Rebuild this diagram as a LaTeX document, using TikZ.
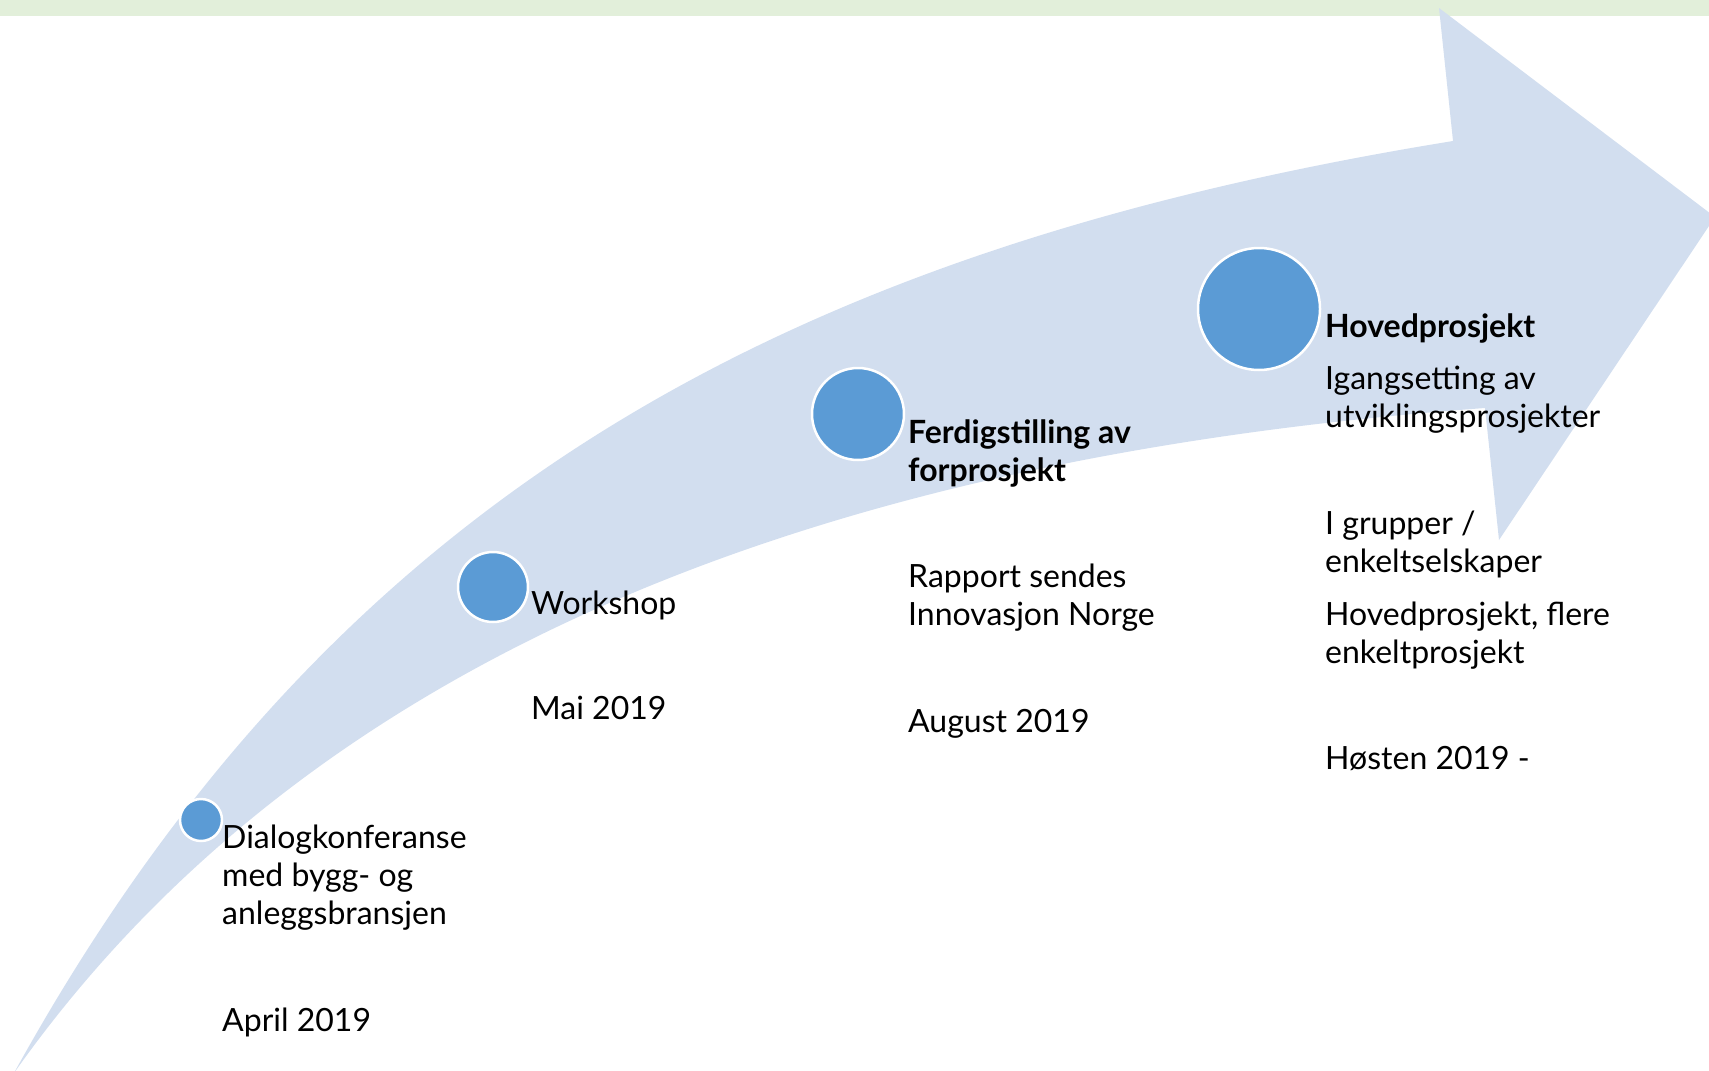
\documentclass[tikz,border=0pt]{standalone}
\usepackage{fontspec}
\setmainfont{Lato}
\definecolor{arrowfill}{HTML}{D2DEEF}
\definecolor{dotfill}{HTML}{5B9BD5}
\definecolor{topband}{HTML}{E2EFDA}

\begin{document}
\begin{tikzpicture}[x=1pt,y=1pt,yscale=-1,
	dot/.style={circle,fill=dotfill,draw=white,line width=2.5pt,inner sep=0pt},
	txt/.style={anchor=base west,inner sep=0pt,align=left,font=\fontsize{32}{38}\selectfont},
	bold/.style={txt,font=\fontsize{32}{38}\selectfont\bfseries}]
	\useasboundingbox (0,0) rectangle (1709,1071);
	\clip (0,0) rectangle (1709,1071);
	% band at the top and the curved arrow
	\fill [topband] (0,0) rectangle (1709,16);
	\fill [arrowfill] (14,1073) .. controls (330,500) and (780,250) .. (1453,141) -- (1439,8) -- (1715,217) -- (1499,540) -- (1485,408) .. controls (850,455) and (320,640) .. (14,1073) -- cycle;
	% milestones
	\node [dot,minimum size=42] (dialog) at (201,820) {};
	\node [dot,minimum size=70] (workshop) at (493,587) {};
	\node [dot,minimum size=92] (forprosjekt) at (858,414) {};
	\node [dot,minimum size=122] (hoved) at (1259,309) {};
	% texts (base = baseline of the last line)
	\node [txt] (dialogtxt) at (222,924) {Dialogkonferanse\\med bygg- og\\anleggsbransjen};
	\node [txt] (dialogdate) at (222,1031) {April 2019};
	\node [txt] (workshoptxt) at (531,614) {Workshop};
	\node [txt] (workshopdate) at (531,719) {Mai 2019};
	\node [bold] (fortxt) at (908,481) {Ferdigstilling av\\forprosjekt};
	\node [txt] (forrapport) at (908,625) {Rapport sendes\\Innovasjon Norge};
	\node [txt] (fordate) at (908,732) {August 2019};
	\node [bold] (hovedtxt) at (1325,337) {Hovedprosjekt};
	\node [txt] (hovedstart) at (1325,427) {Igangsetting av\\utviklingsprosjekter};
	\node [txt] (hovedgrupper) at (1325,572) {I grupper /\\enkeltselskaper};
	\node [txt] (hovedflere) at (1325,663) {Hovedprosjekt, flere\\enkeltprosjekt};
	\node [txt] (hoveddate) at (1325,769) {Høsten 2019 -};
\end{tikzpicture}
\end{document}
